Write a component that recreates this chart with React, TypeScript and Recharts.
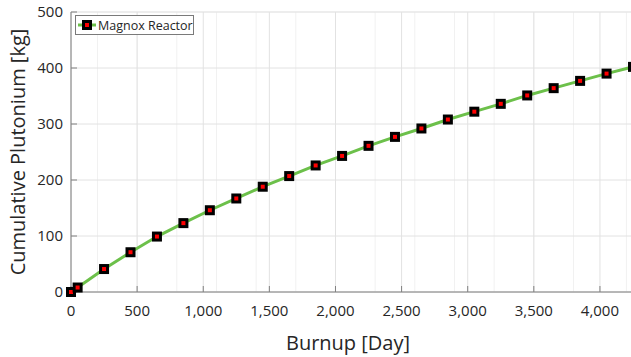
import React from 'react';
import { LineChart, Line, XAxis, YAxis, CartesianGrid } from 'recharts';

const burnupDays = [0, 50, 250, 450, 650, 850, 1050, 1250, 1450, 1650, 1850, 2050, 2250, 2450, 2650, 2850, 3050, 3250, 3450, 3650, 3850, 4050, 4250];
const plutoniumKg = [0, 8, 41, 71, 99, 123, 146, 167, 188, 207, 226, 243, 261, 277, 292, 308, 322, 336, 351, 364, 377, 390, 402];
const xTicks = [0, 500, 1000, 1500, 2000, 2500, 3000, 3500, 4000];
const yTicks = [0, 100, 200, 300, 400, 500];
const xMinorTicks = Array.from({ length: 43 }, (_, i) => i * 100);
const yMinorTicks = Array.from({ length: 26 }, (_, i) => i * 20);
const seriesName = 'Magnox Reactor';

const data = burnupDays.map((d, i) => ({ burnup: d, pu: plutoniumKg[i] }));

const FONT = '"Open Sans", "Noto Sans", sans-serif';
const TEXT = '#262626';
const AXIS = '#808080';
const GREEN = '#6cc04a';
const X_DOMAIN: [number, number] = [0, 4250];

const fmt = (v: number) => v.toLocaleString('en-US');

const Marker = (props: any) => {
  const { cx, cy } = props;
  if (cx == null || cy == null) return null;
  return (
    <g>
      <rect x={cx - 5} y={cy - 5} width={10} height={10} fill="#000" />
      <rect x={cx - 2} y={cy - 2} width={4} height={4} fill="#ff0000" />
    </g>
  );
};

const YLabel = (props: any) => {
  const vb = props.viewBox || {};
  const cx = 17;
  const cy = (vb.y ?? 12) + (vb.height ?? 280) / 2;
  return (
    <text x={cx} y={cy} transform={`rotate(-90 ${cx} ${cy})`} textAnchor="middle" dominantBaseline="central"
      fontFamily={FONT} fontSize={20} fill={TEXT}>
      Cumulative Plutonium [kg]
    </text>
  );
};

export default function App() {
  return (
    <div style={{ position: 'absolute', left: 0, top: 0, width: 631, height: 357, background: '#fff', overflow: 'hidden' }}>
      <LineChart width={631} height={357} data={data} margin={{ top: 12, right: -2, bottom: 0, left: 0 }}>
        <XAxis xAxisId="minor" dataKey="burnup" type="number" domain={X_DOMAIN} ticks={xMinorTicks} hide />
        <YAxis yAxisId="minor" type="number" domain={[0, 500]} ticks={yMinorTicks} hide />
        <CartesianGrid xAxisId="minor" yAxisId="minor" stroke="#f1f1f1" strokeWidth={1} />
        <CartesianGrid stroke="#e2e2e2" strokeWidth={1} />
        <XAxis
          xAxisId="top"
          orientation="top"
          dataKey="burnup"
          type="number"
          domain={X_DOMAIN}
          ticks={xTicks}
          height={0}
          tickSize={-6}
          tickFormatter={() => ''}
          stroke={AXIS}
          axisLine={{ stroke: AXIS }}
          tickLine={{ stroke: AXIS }}
        />
        <XAxis
          dataKey="burnup"
          type="number"
          domain={X_DOMAIN}
          ticks={xTicks}
          tickFormatter={fmt}
          height={65}
          tickSize={-6}
          tickMargin={19}
          stroke={AXIS}
          tick={{ fill: TEXT, fontFamily: FONT, fontSize: 15 }}
          label={{ value: 'Burnup [Day]', position: 'insideBottom', offset: 7, dx: -4, fill: TEXT, fontFamily: FONT, fontSize: 20 }}
        />
        <YAxis
          type="number"
          domain={[0, 500]}
          ticks={yTicks}
          width={71}
          tickSize={-6}
          tickMargin={14}
          stroke={AXIS}
          tick={{ fill: TEXT, fontFamily: FONT, fontSize: 15 }}
          label={{ content: YLabel }}
        />
        <Line
          dataKey="pu"
          name={seriesName}
          stroke={GREEN}
          strokeWidth={3}
          dot={<Marker />}
          activeDot={false}
          isAnimationActive={false}
        />
      </LineChart>
      <div style={{
        position: 'absolute', left: 75, top: 15, width: 119, height: 20, boxSizing: 'border-box',
        border: '1px solid #7a7a7a', background: '#fff', display: 'flex', alignItems: 'center',
        fontFamily: FONT, fontSize: 12.5, color: TEXT, whiteSpace: 'nowrap'
      }}>
        <svg width={18} height={12} style={{ marginLeft: 2, marginRight: 2 }}>
          <line x1={0} y1={6} x2={18} y2={6} stroke={GREEN} strokeWidth={3} />
          <rect x={4} y={1} width={10} height={10} fill="#000" />
          <rect x={7} y={4} width={4} height={4} fill="#ff0000" />
        </svg>
        <span>{seriesName}</span>
      </div>
    </div>
  );
}
